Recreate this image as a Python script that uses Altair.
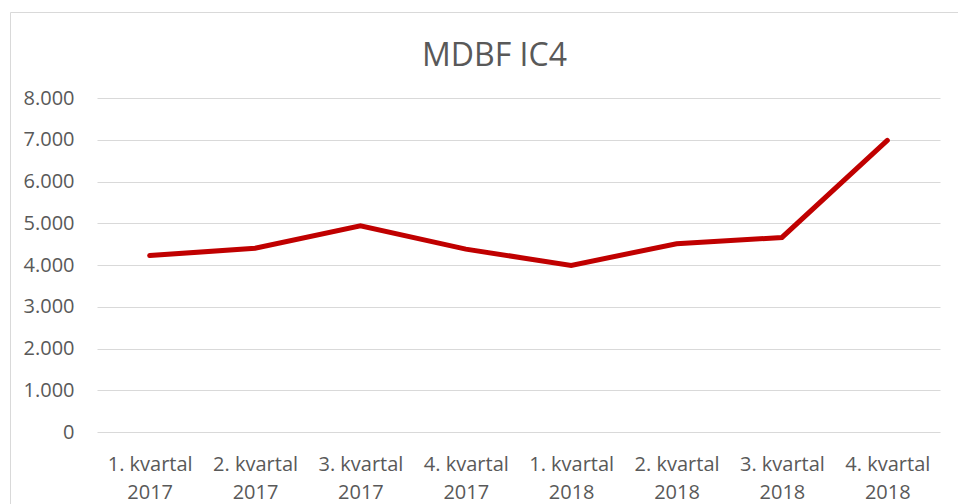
import altair as alt
import pandas as pd

# ---- data ----
quarters = ["1. kvartal 2017", "2. kvartal 2017", "3. kvartal 2017", "4. kvartal 2017",
            "1. kvartal 2018", "2. kvartal 2018", "3. kvartal 2018", "4. kvartal 2018"]
mdbf = [4225, 4400, 4940, 4380, 3990, 4510, 4660, 6985]
y_ticks = [0, 1000, 2000, 3000, 4000, 5000, 6000, 7000, 8000]
title_text = ["MDBF IC4"]

df = pd.DataFrame({"kvartal": quarters, "mdbf": mdbf})
title_df = pd.DataFrame({"t": title_text})
frame_df = pd.DataFrame({"f": [0]})

W, H = 843, 334
FONT = "Open Sans"
GREY = "#595959"

base = alt.Chart(df)

line = base.mark_line(color="#c00000", strokeWidth=5, strokeCap="round").encode(
    x=alt.X("kvartal:N", sort=quarters,
            scale=alt.Scale(type="point", padding=0.5),
            axis=alt.Axis(title=None, labelAngle=0, ticks=False, domain=False, grid=False,
                          labelFont=FONT, labelFontSize=20, labelColor=GREY,
                          labelPadding=38, labelLineHeight=28, labelBaseline="alphabetic",
                          labelOverlap=False, labelLimit=0,
                          labelExpr="[substring(datum.label, 0, 10), substring(datum.label, 11)]")),
    y=alt.Y("mdbf:Q", scale=alt.Scale(domain=[0, 8000], nice=False),
            axis=alt.Axis(title=None, values=y_ticks, ticks=False, domain=False, grid=True,
                          gridColor="#d9d9d9", gridWidth=1,
                          labelFont=FONT, labelFontSize=20, labelColor=GREY, labelPadding=23,
                          labelExpr="replace(format(datum.value, ','), ',', '.')")),
)

title = alt.Chart(title_df).mark_text(font=FONT, fontSize=32, color=GREY, align="center",
                                      baseline="alphabetic").encode(
    text="t:N", x=alt.value(397.5), y=alt.value(-32))

frame = alt.Chart(frame_df).mark_rect(fillOpacity=0, stroke="#d9d9d9", strokeWidth=1).encode(
    x=alt.value(-86.5), x2=alt.value(W + 300), y=alt.value(-85.5), y2=alt.value(H + 300))

chart = alt.layer(frame, line, title).properties(
    width=W, height=H,
    background="white",
    autosize=alt.AutoSizeParams(type="none"),
    padding={"left": 89, "top": 90, "right": 18, "bottom": 72},
).configure_view(strokeWidth=0, stroke="transparent")

chart.save("out.html", embed_options={"renderer": "svg", "actions": False})
